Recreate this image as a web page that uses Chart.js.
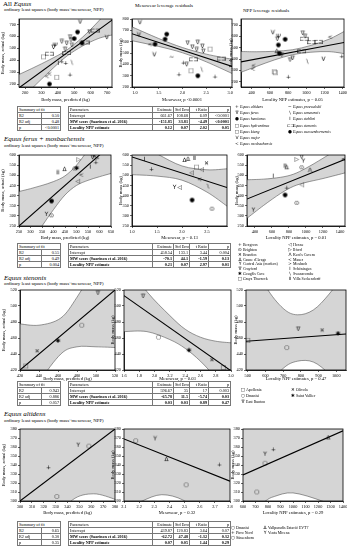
<!DOCTYPE html>
<html lang="en">
<head>
<meta charset="UTF-8">
<title>Equus body mass regressions</title>
<script src="https://cdn.jsdelivr.net/npm/chart.js"></script>
<style>
    body { margin: 0; width: 347px; height: 550px; position: relative; overflow: hidden; background: #fff; color: #000; font-family: 'Liberation Serif', serif; }
    canvas { position: absolute; }
    .t { position: absolute; white-space: nowrap; line-height: 1; }
    .h { font-size: 7px; }
    .s { font-size: 4.8px; }
    .ct { font-size: 5px; }
    table { position: absolute; border-collapse: collapse; font-size: 4.2px; table-layout: fixed; }
    td { border: 1px solid #777; padding: 0 1px; height: 5px; line-height: 5px; white-space: nowrap; overflow: hidden; }
    td.r { text-align: right; }
    tr.b td { font-weight: bold; }
    .lg { position: absolute; font-size: 3.9px; white-space: nowrap; line-height: 1; }
    .lg span { font-family: 'DejaVu Sans', sans-serif; font-size: 4.5px; display: inline-block; width: 6px; text-align: center; }
</style>
</head>
<body>
<div class="t h" style="left:3px;top:1px">All <i>Equus</i></div>
<div class="t s" style="left:4px;top:8px">ordinary least squares (body mass~mesowear, NPP)</div>
<div class="t ct" style="left:135px;top:3px">Mesowear leverage residuals</div>
<div class="t ct" style="left:243px;top:8px">NPP leverage residuals</div>

<div class="t h" style="left:4px;top:136px"><i>Equus ferus + mosbachensis</i></div>
<div class="t s" style="left:4px;top:144px">ordinary least squares (body mass~mesowear, NPP)</div>

<div class="t h" style="left:4px;top:275px"><i>Equus stenonis</i></div>
<div class="t s" style="left:4px;top:282px">ordinary least squares (body mass~mesowear, NPP)</div>

<div class="t h" style="left:4px;top:411px"><i>Equus altidens</i></div>
<div class="t s" style="left:4px;top:419px">ordinary least squares (body mass~mesowear, NPP)</div>

<script>
// ---------- All Equus ----------
const c1XTicks = [200, 300, 400, 500, 600, 700];
const c1YTicks = [200, 300, 400, 500, 600, 700];
const c1PtsX = [535, 519, 499, 474, 480, 424, 454, 485, 383, 373, 546, 566, 592, 627, 698, 348, 312, 444, 454, 424, 448, 485, 348, 332, 393, 474, 348, 403];
const c1PtsY = [719, 636, 581, 594, 567, 553, 539, 525, 525, 506, 544, 544, 636, 644, 589, 450, 428, 489, 456, 386, 372, 378, 283, 261, 256, 275, 200, 372];
const c1Mk = ['V', 'dot', 'dot', 'tri', 'tri', 'tri', 'tri', 'tri', 'psi', 'tri', 'dot', 'sten', 'tri', 'sten', 'V', 'sten', 'sq', 'tri', 'sten', 'plus', 'plus', 'bs', 'lt', 'lt', 'sq', 'plus', 'dot', 'I'];
const c1LineX = [160, 735];
const c1LineY = [165, 740];
const c1BandX = [160, 250, 350, 450, 550, 650, 735];
const c1BandHi = [278, 336, 404, 481, 592, 730, 865];
const c1BandLo = [55, 174, 306, 429, 518, 583, 612];

const c2XTicks = [1.0, 1.5, 2.0, 2.5, 3.0];
const c2YTicks = [200, 300, 400, 500, 600, 700, 800];
const c2PtsX = [1.105, 1.084, 1.667, 1.632, 1.421, 1.316, 1.406, 2.109, 2.207, 2.32, 2.417, 2.298, 2.438, 2.579, 2.811, 1.926, 2.018, 2.179, 2.32, 2.684, 2.404, 2.088, 1.77, 2.228];
const c2PtsY = [768, 660, 666, 622, 578, 572, 484, 587, 551, 592, 557, 528, 513, 534, 446, 308, 411, 343, 299, 288, 352, 396, 464, 440];
const c2Mk = ['V', 'V', 'dot', 'dot', 'dot', 'lt', 'V', 'tri', 'tri', 'tri', 'tri', 'tri', 'tri', 'sq', 'sten', 'plus', 'plus', 'sq', 'dot', 'plus', 'bs', 'tri', 'tilde', 'sten'];
const c2LineX = [0.9, 3.1];
const c2LineY = [675, 374];
const c2BandX = [0.9, 1.5, 2.0, 2.5, 3.1];
const c2BandHi = [738, 628, 548, 490, 440];
const c2BandLo = [612, 558, 502, 422, 308];

const c3XTicks = [400, 600, 800, 1000, 1200, 1400];
const c3YTicks = [200, 300, 400, 500, 600, 700];
const c3PtsX = [631, 692, 681, 766, 692, 960, 986, 975, 1059, 1132, 1260, 1187, 1389, 802, 648, 659, 411, 418, 703, 730, 850, 821, 949, 1011, 675];
const c3PtsY = [632, 597, 574, 574, 524, 627, 597, 574, 544, 547, 591, 398, 420, 239, 288, 279, 309, 338, 450, 435, 406, 391, 465, 376, 465];
const c3Mk = ['V', 'psi', 'tri', 'dot', 'dot', 'tri', 'tri', 'sten', 'sten', 'sten', 'lt', 'V', 'plus', 'plus', 'sq', 'sq', 'lt', 'lt', 'dot', 'tri', 'tri', 'tri', 'sten', 'bs', 'delta'];
const c3LineX = [280, 1420];
const c3LineY = [374, 546];
const c3BandX = [280, 450, 650, 850, 1050, 1250, 1420];
const c3BandHi = [466, 464, 468, 482, 520, 575, 645];
const c3BandLo = [282, 334, 392, 438, 460, 465, 447];

// ---------- Equus ferus + mosbachensis ----------
const c4XTicks = [250, 300, 350, 400, 450, 500, 550, 600, 650];
const c4YTicks = [250, 300, 350, 400, 450, 500, 550, 600];
const c4PtsX = [570, 584, 509, 419, 448, 501, 492, 505, 391, 391, 369, 520, 560, 577, 590];
const c4PtsY = [587, 562, 577, 512, 528, 533, 531, 470, 373, 300, 307, 500, 540, 592, 582];
const c4Mk = ['tri', 'plus', 'rtri', 'II', 'delta', 'star', 'odot', 'ltri', 'dot', 'odot', 'Y', 'lt', 'I', 'x', 'gt'];
const c4LineX = [250, 650];
const c4LineY = [250, 650];
const c4BandX = [250, 300, 350, 400, 450, 500, 550, 600, 650];
const c4BandHi = [420, 434, 450, 469, 497, 550, 625, 707, 790];
const c4BandLo = [80, 166, 250, 331, 403, 450, 475, 493, 509];

const c5XTicks = [1.0, 1.5, 2.0, 2.5];
const c5YTicks = [250, 300, 350, 400, 450, 500, 550, 600];
const c5PtsX = [1.39, 1.25, 2.05, 2.12, 2.25, 2.49, 2.29, 2.39, 2.35, 2.19, 1.85, 1.95, 2.2, 2.6, 2.52];
const c5PtsY = [528, 578, 573, 578, 583, 557, 540, 528, 478, 512, 440, 440, 378, 333, 445];
const c5Mk = ['plus', 'I', 'delta', 'delta', 'II', 'x', 'sq', 'ltri', 'lt', 'ltri', 'Y', 'ltri', 'dot', 'odot', 'bs'];
const c5LineX = [1.0, 2.9];
const c5LineY = [590, 440];
const c5BandX = [1.0, 1.5, 2.0, 2.5, 2.9];
const c5BandHi = [677, 606, 546, 527, 532];
const c5BandLo = [503, 496, 476, 417, 348];

const c6XTicks = [400, 600, 800, 1000, 1200, 1400];
const c6YTicks = [250, 300, 350, 400, 450, 500, 550, 600];
const c6PtsX = [891, 949, 968, 753, 773, 949, 1047, 1439, 615, 773, 949, 380, 753, 891];
const c6PtsY = [578, 590, 570, 545, 537, 537, 523, 578, 495, 437, 453, 328, 403, 362];
const c6Mk = ['rtri', 'tri', 'Y', 'II', 'delta', 'odot', 'A', 'lt', 'I', 'plus', 'ltri', 'Y', 'dot', 'odot'];
const c6LineX = [300, 1470];
const c6LineY = [382, 580];
const c6BandX = [300, 500, 700, 850, 1000, 1200, 1470];
const c6BandHi = [478, 481, 490, 505, 535, 584, 655];
const c6BandLo = [286, 351, 410, 445, 465, 484, 513];

// ---------- Equus stenonis ----------
const c7XTicks = [420, 440, 460, 480, 500, 520];
const c7YTicks = [420, 440, 460, 480, 500, 520];
const c7PtsX = [426, 438, 460, 485, 502];
const c7PtsY = [425, 443, 456, 476, 516];
const c7Mk = ['sq', 'x', 'star', 'circ', 'tri'];
const c7LineX = [418, 522];
const c7LineY = [418, 522];
const c7BandX = [418, 440, 463, 480, 500, 522];
const c7BandHi = [478, 476, 485, 511, 551, 596];
const c7BandLo = [358, 404, 440, 449, 449, 448];

const c8XTicks = [1.6, 1.8, 2.0, 2.2, 2.4, 2.6, 2.8, 3.0];
const c8YTicks = [420, 440, 460, 480, 500, 520];
const c8PtsX = [1.85, 2.05, 2.45, 2.75, 2.9];
const c8PtsY = [512, 461, 444, 432, 423];
const c8Mk = ['tri', 'circ', 'star', 'x', 'sq'];
const c8LineX = [1.6, 3.0];
const c8LineY = [513, 419];
const c8BandX = [1.6, 1.9, 2.2, 2.4, 2.6, 2.8, 3.0];
const c8BandHi = [558, 518, 488, 471, 461, 456, 454];
const c8BandLo = [468, 468, 458, 447, 431, 410, 384];

const c9XTicks = [500, 600, 700, 800, 900, 1000];
const c9YTicks = [420, 440, 460, 480, 500, 520];
const c9PtsX = [500, 720, 785, 920, 1010];
const c9PtsY = [457, 448, 471, 469, 465];
const c9Mk = ['sq', 'circ', 'tri', 'x', 'star'];
const c9LineX = [490, 1060];
const c9LineY = [456, 465];
const c9BandX = [490, 600, 700, 780, 870, 960, 1060];
const c9BandHi = [575, 525, 497, 489, 495, 515, 545];
const c9BandLo = [340, 395, 422, 431, 430, 415, 390];

// ---------- Equus altidens ----------
const c10XTicks = [300, 310, 320, 330, 340, 350, 360, 370, 380];
const c10YTicks = [300, 310, 320, 330, 340, 350, 360, 370, 380];
const c10PtsX = [324, 349, 358, 331];
const c10PtsY = [337, 362, 361, 305];
const c10Mk = ['plus', 'Y', 'circ', 'circ'];
const c10LineX = [300, 380];
const c10LineY = [300, 380];
const c10BandX = [300, 326, 344, 362, 380];
const c10BandHi = [391, 383, 387, 416, 458];
const c10BandLo = [209, 272, 301, 308, 302];

const c11XTicks = [2.1, 2.2, 2.3, 2.4, 2.5, 2.6, 2.7, 2.8];
const c11YTicks = [300, 310, 320, 330, 340, 350, 360, 370, 380];
const c11PtsX = [2.177, 2.305, 2.38, 2.73, 2.51];
const c11PtsY = [367, 369, 346, 340, 318];
const c11Mk = ['circ', 'Y', 'delta', 'plus', 'circ'];
const c11LineX = [2.1, 2.8];
const c11LineY = [369, 322];
const c11BandX = [2.1, 2.22, 2.35, 2.49, 2.6, 2.8];
const c11BandHi = [449, 422, 398, 386, 387, 402];
const c11BandLo = [289, 300, 307, 301, 285, 242];

const c12XTicks = [600, 700, 800, 900, 1000, 1100, 1200, 1300, 1400];
const c12YTicks = [300, 310, 320, 330, 340, 350, 360, 370, 380];
const c12PtsX = [1282, 776, 843, 776, 710];
const c12PtsY = [370, 352, 357, 342, 310];
const c12Mk = ['delta', 'Y', 'plus', 'circ', 'circ'];
const c12LineX = [600, 1400];
const c12LineY = [329, 378];
const c12BandX = [600, 700, 780, 850, 1000, 1232, 1400];
const c12BandHi = [386, 383, 383, 386, 401, 441, 470];
const c12BandLo = [275, 290, 300, 305, 309, 300, 289];

// ---------- tables ----------
const fitLabels = ['R2', 'R2 adj', 'p'];
const fit1 = ['0.50', '0.48', '<0.0001'];
const fit2 = ['0.55', '0.49', '0.004'];
const fit3 = ['0.943', '0.886', '0.057'];
const fit4 = ['0.65', '0.30', '0.35'];
const parHead = ['Parameters', 'Estimate', 'Std Error', 't Ratio', 'p'];
const parNames = ['Intercept', 'MW score (Saarinen et al. 2016)', 'Locality NPP estimate'];
const par1 = [['661.67', '108.68', '6.09', '<0.0001'], ['-151.85', '33.81', '-4.49', '<0.0001'], ['0.12', '0.07', '2.02', '0.05']];
const par2 = [['458.54', '133.1', '3.44', '0.004'], ['-70.1', '44.1', '-1.59', '0.13'], ['0.21', '0.07', '2.97', '0.01']];
const par3 = [['596.67', '35', '17', '0.003'], ['-65.78', '11.5', '-5.74', '0.03'], ['0.03', '0.03', '0.89', '0.47']];
const par4 = [['439.87', '120.83', '3.64', '0.07'], ['-62.72', '47.48', '-1.32', '0.32'], ['0.07', '0.05', '1.44', '0.29']];

// ---------- legends ----------
const leg1A = [['plus', 'Equus altidens'], ['tri', 'Equus ferus'], ['dot', 'Equus hemionus'], ['sq', 'Equus hydruntinus'], ['sq', 'Equus kiang'], ['V', 'Equus major'], ['lt', 'Equus mosbachensis']];
const leg1B = [['tilde', 'Equus przewalskii'], ['bs', 'Equus senezensis'], ['I', 'Equus stehlini'], ['sten', 'Equus stenonis'], ['dot', 'Equus suessenbornensis']];
const leg2A = [['plus', 'Boxgrove'], ['odot', 'Brighton'], ['x', 'Brandon'], ['delta', 'Caune d\'Arago'], ['Y', 'Central Asia (modern)'], ['tri', 'Crayford'], ['star', 'Gough\'s Cave'], ['sq', 'Grays Thurrock']];
const leg2B = [['ltri', 'Hoxne'], ['rtri', 'Ilford'], ['A', 'Kent\'s Cavern'], ['lt', 'Mauer'], ['gt', 'Mosbach'], ['I', 'Schöningen'], ['bs', 'Swanscombe'], ['II', 'Villa Seckendorff']];
const leg3A = [['sq', 'Apollonia'], ['circ', 'Dmanisi'], ['tri', 'East Runton']];
const leg3B = [['x', 'Olivola'], ['star', 'Saint Vallier']];
const leg4A = [['circ', 'Dmanisi'], ['plus', 'Pirro Nord'], ['circ', 'Süssenborn']];
const leg4B = [['delta', 'Vallparadís Estació EVT7'], ['Y', 'Venta Micena']];

const GL = { plus: '+', tri: '∇', dot: '●', sq: '□', V: 'V', lt: '<', gt: '>', tilde: '~', bs: '\\', I: 'I', II: 'Ⅱ', sten: '⊏⊐', circ: '○', odot: '⊙', x: '✕', Y: 'Y', star: '✱', delta: '∆', ltri: '◁', rtri: '▷', A: 'Λ', psi: 'Ψ' };
const glyphCache = {};
function glyph(k) {
    if (glyphCache[k]) return glyphCache[k];
    const s = GL[k], w = s.length > 1 ? 9 : 7;
    const c = document.createElement('canvas');
    c.width = w; c.height = 7;
    const g = c.getContext('2d');
    g.font = '6px "DejaVu Sans"';
    g.textAlign = 'center';
    g.textBaseline = 'middle';
    g.fillStyle = '#000';
    g.fillText(s, w / 2, 3.8);
    glyphCache[k] = c;
    return c;
}

const framePlugin = {
    id: 'frame',
    afterDraw(ch) {
        const a = ch.chartArea, c = ch.ctx;
        c.save();
        c.strokeStyle = '#000';
        c.lineWidth = 0.8;
        c.strokeRect(a.left, a.top, a.right - a.left, a.bottom - a.top);
        c.restore();
    }
};

// smooth curve through pixel points (catmull-rom as bezier)
function spline(ctx, p, move) {
    if (move) ctx.moveTo(p[0][0], p[0][1]); else ctx.lineTo(p[0][0], p[0][1]);
    for (let i = 0; i < p.length - 1; i++) {
        const a = p[Math.max(i - 1, 0)], b = p[i], c = p[i + 1], d = p[Math.min(i + 2, p.length - 1)];
        ctx.bezierCurveTo(b[0] + (c[0] - a[0]) / 6, b[1] + (c[1] - a[1]) / 6, c[0] - (d[0] - b[0]) / 6, c[1] - (d[1] - b[1]) / 6, c[0], c[1]);
    }
}

// confidence band: filled between hi and lo, mapped through the chart scales
function bandPlugin(bx, hi, lo) {
    return {
        id: 'band',
        beforeDatasetsDraw(ch) {
            const xs = ch.scales.x, ys = ch.scales.y, a = ch.chartArea, c = ch.ctx;
            const up = bx.map((v, i) => [xs.getPixelForValue(v), ys.getPixelForValue(hi[i])]);
            const dn = bx.map((v, i) => [xs.getPixelForValue(v), ys.getPixelForValue(lo[i])]);
            c.save();
            c.beginPath();
            c.rect(a.left, a.top, a.right - a.left, a.bottom - a.top);
            c.clip();
            c.beginPath();
            spline(c, up, true);
            spline(c, dn.slice().reverse(), false);
            c.closePath();
            c.fillStyle = '#d5d5d5';
            c.fill();
            c.strokeStyle = '#555';
            c.lineWidth = 0.6;
            c.beginPath(); spline(c, up, true); c.stroke();
            c.beginPath(); spline(c, dn, true); c.stroke();
            c.restore();
        }
    };
}

function xy(xs, ys) { return xs.map((x, i) => ({ x: x, y: ys[i] })); }

function plot(o) {
    const [L, T, R, B] = o.box;
    // chart.js puts the plot 2px below the top padding (tick label overhang)
    const YW = o.yw, XH = o.xh, PT = 3, PR = 7, TOP = PT + 2;
    const cv = document.createElement('canvas');
    cv.width = R - L + YW + PR;
    cv.height = B - T + XH + TOP;
    cv.style.left = (L - YW) + 'px';
    cv.style.top = (T - TOP) + 'px';
    document.body.appendChild(cv);
    const tickFont = { family: 'Liberation Serif', size: 4.3 };
    const titleFont = { family: 'Liberation Serif', size: 4.6 };
    const dec = o.dec || 0;
    new Chart(cv, {
        type: 'scatter',
        data: {
            datasets: [
                { data: xy(o.px, o.py), pointStyle: o.mk.map(glyph), pointRadius: 3 },
                { type: 'line', data: xy(o.lx, o.ly), borderColor: '#000', borderWidth: 1.1, pointRadius: 0, fill: false }
            ]
        },
        options: {
            responsive: false, animation: false,
            layout: { padding: { top: PT, right: PR, left: 0, bottom: 0 } },
            plugins: { legend: { display: false }, tooltip: { enabled: false } },
            scales: {
                x: {
                    type: 'linear', min: o.xr[0], max: o.xr[1],
                    afterBuildTicks: s => { s.ticks = o.xt.map(v => ({ value: v })); },
                    afterFit: s => { s.height = XH; s.paddingLeft = 0; s.paddingRight = 0; },
                    ticks: { font: tickFont, color: '#000', padding: 1.5, maxRotation: 0, autoSkip: false, callback: v => v.toFixed(dec) },
                    grid: { drawOnChartArea: false, tickLength: 2, color: '#000', lineWidth: 0.6 },
                    border: { color: '#000', width: 0.8 },
                    title: { display: true, text: o.xtitle, font: titleFont, color: '#000', padding: 0 }
                },
                y: {
                    type: 'linear', min: o.yr[0], max: o.yr[1],
                    afterBuildTicks: s => { s.ticks = o.yt.map(v => ({ value: v })); },
                    afterFit: s => { s.width = YW; s.paddingTop = 0; s.paddingBottom = 0; },
                    ticks: { font: tickFont, color: '#000', padding: 1, autoSkip: false },
                    grid: { drawOnChartArea: false, tickLength: 2, color: '#000', lineWidth: 0.6 },
                    border: { color: '#000', width: 0.8 },
                    title: { display: true, text: o.ytitle, font: titleFont, color: '#000', padding: 0 }
                }
            }
        },
        plugins: [bandPlugin(o.bx, o.hi, o.lo), framePlugin]
    });
}

const yActual = 'Body mass, actual (kg)', yMass = 'Body mass (kg)', xPred = 'Body mass, predicted (kg)';

plot({ box: [19, 19, 112, 87], yw: 19, xh: 16, xr: [163, 730], yr: [175, 745], xt: c1XTicks, yt: c1YTicks, xtitle: xPred, ytitle: yActual,
    px: c1PtsX, py: c1PtsY, mk: c1Mk, lx: c1LineX, ly: c1LineY, bx: c1BandX, hi: c1BandHi, lo: c1BandLo });
plot({ box: [132, 19, 232, 87], yw: 14, xh: 16, xr: [0.94, 3.04], yr: [200, 800], xt: c2XTicks, yt: c2YTicks, dec: 1, xtitle: 'Mesowear, p <0.0001', ytitle: yMass,
    px: c2PtsX, py: c2PtsY, mk: c2Mk, lx: c2LineX, ly: c2LineY, bx: c2BandX, hi: c2BandHi, lo: c2BandLo });
plot({ box: [241, 19, 344, 87], yw: 13, xh: 16, xr: [282, 1414], yr: [153, 753], xt: c3XTicks, yt: c3YTicks, xtitle: 'Locality NPP estimates, p = 0.05', ytitle: yMass,
    px: c3PtsX, py: c3PtsY, mk: c3Mk, lx: c3LineX, ly: c3LineY, bx: c3BandX, hi: c3BandHi, lo: c3BandLo });

plot({ box: [19, 155, 111, 226], yw: 19, xh: 15, xr: [250, 650], yr: [250, 600], xt: c4XTicks, yt: c4YTicks, xtitle: xPred, ytitle: yActual,
    px: c4PtsX, py: c4PtsY, mk: c4Mk, lx: c4LineX, ly: c4LineY, bx: c4BandX, hi: c4BandHi, lo: c4BandLo });
plot({ box: [132, 155, 227, 226], yw: 14, xh: 15, xr: [1.0, 2.9], yr: [250, 600], xt: c5XTicks, yt: c5YTicks, dec: 1, xtitle: 'Mesowear, p = 0.13', ytitle: yMass,
    px: c5PtsX, py: c5PtsY, mk: c5Mk, lx: c5LineX, ly: c5LineY, bx: c5BandX, hi: c5BandHi, lo: c5BandLo });
plot({ box: [247, 155, 345, 226], yw: 13, xh: 15, xr: [306, 1459], yr: [250, 600], xt: c6XTicks, yt: c6YTicks, xtitle: 'Locality NPP estimates, p = 0.01', ytitle: yMass,
    px: c6PtsX, py: c6PtsY, mk: c6Mk, lx: c6LineX, ly: c6LineY, bx: c6BandX, hi: c6BandHi, lo: c6BandLo });

plot({ box: [20, 290, 115, 370], yw: 19, xh: 12, xr: [420, 520], yr: [420, 520], xt: c7XTicks, yt: c7YTicks, xtitle: xPred, ytitle: yActual,
    px: c7PtsX, py: c7PtsY, mk: c7Mk, lx: c7LineX, ly: c7LineY, bx: c7BandX, hi: c7BandHi, lo: c7BandLo });
plot({ box: [124, 290, 231, 370], yw: 14, xh: 12, xr: [1.6, 3.0], yr: [420, 520], xt: c8XTicks, yt: c8YTicks, dec: 1, xtitle: 'Mesowear, p = 0.03', ytitle: yMass,
    px: c8PtsX, py: c8PtsY, mk: c8Mk, lx: c8LineX, ly: c8LineY, bx: c8BandX, hi: c8BandHi, lo: c8BandLo });
plot({ box: [246, 290, 346, 370], yw: 13, xh: 12, xr: [490, 1055], yr: [420, 520], xt: c9XTicks, yt: c9YTicks, xtitle: 'Locality NPP estimates, p = 0.47', ytitle: yMass,
    px: c9PtsX, py: c9PtsY, mk: c9Mk, lx: c9LineX, ly: c9LineY, bx: c9BandX, hi: c9BandHi, lo: c9BandLo });

plot({ box: [20, 429, 115, 501], yw: 19, xh: 15, xr: [300, 380], yr: [300, 380], xt: c10XTicks, yt: c10YTicks, xtitle: xPred, ytitle: yActual,
    px: c10PtsX, py: c10PtsY, mk: c10Mk, lx: c10LineX, ly: c10LineY, bx: c10BandX, hi: c10BandHi, lo: c10BandLo });
plot({ box: [124, 429, 230, 501], yw: 14, xh: 15, xr: [2.1, 2.8], yr: [300, 380], xt: c11XTicks, yt: c11YTicks, dec: 1, xtitle: 'Mesowear, p = 0.32', ytitle: yMass,
    px: c11PtsX, py: c11PtsY, mk: c11Mk, lx: c11LineX, ly: c11LineY, bx: c11BandX, hi: c11BandHi, lo: c11BandLo });
plot({ box: [243, 429, 343, 501], yw: 13, xh: 15, xr: [600, 1400], yr: [300, 380], xt: c12XTicks, yt: c12YTicks, xtitle: 'Locality NPP estimates, p = 0.29', ytitle: yMass,
    px: c12PtsX, py: c12PtsY, mk: c12Mk, lx: c12LineX, ly: c12LineY, bx: c12BandX, hi: c12BandHi, lo: c12BandLo });

// ---------- tables and legends as HTML ----------
function addTables(top, fit, par) {
    let h = '<colgroup><col style="width:24px"><col style="width:19px"></colgroup><tr><td colspan="2">Summary of fit</td></tr>';
    fitLabels.forEach((l, i) => { h += '<tr><td>' + l + '</td><td class="r">' + fit[i] + '</td></tr>'; });
    const t1 = document.createElement('table');
    t1.style.left = '17px'; t1.style.top = top + 'px'; t1.style.width = '43px';
    t1.innerHTML = h;
    document.body.appendChild(t1);
    let g = '<colgroup><col style="width:84px"><col style="width:21px"><col style="width:16px"><col style="width:19px"><col style="width:22px"></colgroup><tr>';
    parHead.forEach((p, i) => { g += '<td' + (i ? ' class="r"' : '') + '>' + p + '</td>'; });
    g += '</tr>';
    parNames.forEach((n, i) => {
        g += '<tr' + (i ? ' class="b"' : '') + '><td>' + n + '</td>' + par[i].map(v => '<td class="r">' + v + '</td>').join('') + '</tr>';
    });
    const t2 = document.createElement('table');
    t2.style.left = '68px'; t2.style.top = top + 'px'; t2.style.width = '162px';
    t2.innerHTML = g;
    document.body.appendChild(t2);
}
addTables(106, fit1, par1);
addTables(243, fit2, par2);
addTables(381, fit3, par3);
addTables(521, fit4, par4);

function addLegend(items, left, top, step, italic) {
    items.forEach((it, i) => {
        const d = document.createElement('div');
        d.className = 'lg';
        d.style.left = left + 'px';
        d.style.top = (top + i * step) + 'px';
        d.innerHTML = '<span>' + GL[it[0]] + '</span>' + (italic ? '<i>' + it[1] + '</i>' : it[1]);
        document.body.appendChild(d);
    });
}
addLegend(leg1A, 234, 105, 6.2, true);
addLegend(leg1B, 287, 105, 6.2, true);
addLegend(leg2A, 237, 243, 4.85, false);
addLegend(leg2B, 287, 243, 4.85, false);
addLegend(leg3A, 240, 388, 5.8, false);
addLegend(leg3B, 290, 388, 5.8, false);
addLegend(leg4A, 230, 526, 5, false);
addLegend(leg4B, 262, 526, 5, false);
</script>
</body>
</html>
